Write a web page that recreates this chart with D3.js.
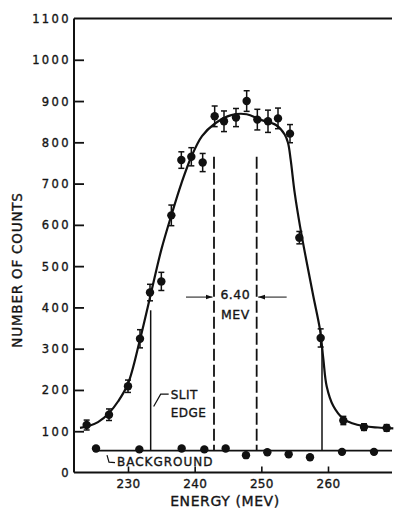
<!DOCTYPE html>
<html><head><meta charset="utf-8">
<script src="https://cdn.jsdelivr.net/npm/d3@7/dist/d3.min.js"></script>
<style>
body{margin:0;background:#fff}
svg{display:block}
text{font-family:"DejaVu Sans",sans-serif;fill:#151515;stroke:#151515;stroke-width:0.35px}
</style>
</head><body>
<svg id="c" width="394" height="512"></svg>
<script>
// Measured points (MeV, counts, +/- error)
const energy = [223.8,227.15,230,231.8,233.3,235,236.5,238,239.5,241.2,243,244.4,246.2,247.8,249.4,251,252.5,254.3,255.7,258.9,262.3,265.4,268.8];
const counts = [115,140,209,324,436,463,623,757,765,751,863,851,860,900,855,851,858,821,569,326,126,110,108];
const errors = [12,14,15,22,20,22,25,20,22,22,25,25,22,25,25,27,25,22,15,22,10,8,8];
// Background points
const bgEnergy = [225.2,231.7,238.05,241.45,244.65,247.7,250.9,254.1,257.3,262.1,266.9];
const bgCounts = [58,56,58,56,58,42,49,44,37,50,50];
const bgLevel = 53;
const bgRange = [225.2,269.6];
// Fitted curve
const fitEnergy = [222.8,224,225.5,227.2,228.5,230,231.8,233.3,235,236.5,238,239.5,241.1,243,245.5,247.8,249.8,252.2,253.5,254,254.4,255,255.8,256.8,257.8,258.8,259.3,259.8,260.8,262.3,263.5,265.5,267.5,269.8];
const fitCounts = [108,112,122,145,172,215,322,424,540,623,700,765,815,845,866,868,855,842,819,799,758,678,597,510,427,346,275,209,161,130,120,112,109,107];
// Annotation lines
const slitEnergy = [233.4,259.1];
const slitTop = [393,305];
const halfEnergy = [242.9,249.3];
const halfTop = 765;
const widthLabel = ["6.40","MEV"];
// Ticks
const yTicks = [0,100,200,300,400,500,600,700,800,900,1000,1100];
const xTicks = [230,240,250,260];

const svg = d3.select("#c");
const x = d3.scaleLinear().domain([221.9,269.6]).range([74,392]);
const y = d3.scaleLinear().domain([0,1100]).range([472.5,18.5]);

// frame: left axis, bottom axis, top line
const g = svg.append("g");
g.append("line").attr("x1",x(221.9)).attr("x2",x(221.9)).attr("y1",y(1100)).attr("y2",y(0)).attr("stroke","#111").attr("stroke-width",2);
g.append("line").attr("x1",x(221.9)).attr("x2",x(269.6)).attr("y1",y(0)).attr("y2",y(0)).attr("stroke","#111").attr("stroke-width",2);
g.append("line").attr("x1",x(221.9)).attr("x2",x(269.6)).attr("y1",y(1100)).attr("y2",y(1100)).attr("stroke","#111").attr("stroke-width",1.8);

// y ticks (inward)
const yAxis = d3.axisLeft(y).tickValues(yTicks).tickSize(0).tickPadding(0).tickFormat(d3.format("d"));
const ya = svg.append("g").attr("transform",`translate(${x(221.9)},0)`).call(yAxis);
ya.select(".domain").remove();
ya.selectAll(".tick").append("line").attr("x1",0).attr("x2",d=> (d===0||d===1100)?0:10).attr("stroke","#111").attr("stroke-width",1.8);
ya.selectAll(".tick text").attr("x",-3).attr("dy","0.35em").style("font-size","11.5px").style("letter-spacing","2.4px").attr("fill","#151515");

// x ticks
const xAxis = d3.axisBottom(x).tickValues(xTicks).tickSize(0).tickPadding(0).tickFormat(d3.format("d"));
const xa = svg.append("g").attr("transform",`translate(0,${y(0)})`).call(xAxis);
xa.select(".domain").remove();
xa.selectAll(".tick").append("line").attr("y1",0).attr("y2",-6).attr("stroke","#111").attr("stroke-width",1.6);
xa.selectAll(".tick text").attr("y",15).attr("dy","0").style("font-size","12px").style("letter-spacing","0.3px").attr("fill","#151515");

// axis titles
svg.append("text").attr("x",225).attr("y",506).attr("text-anchor","middle").style("font-size","14px").style("letter-spacing","0.6px").text("ENERGY (MEV)");
svg.append("text").attr("transform","translate(22,270) rotate(-90)").attr("text-anchor","middle").style("font-size","13.5px").style("letter-spacing","0.8px").text("NUMBER  OF  COUNTS");

// background line and points
svg.append("line").attr("x1",x(bgRange[0])).attr("x2",x(bgRange[1])).attr("y1",y(bgLevel)).attr("y2",y(bgLevel)).attr("stroke","#111").attr("stroke-width",1.6);
svg.selectAll("circle.bg").data(bgEnergy).join("circle").attr("class","bg")
  .attr("cx",d=>x(d)).attr("cy",(d,i)=>y(bgCounts[i])).attr("r",4.2).attr("fill","#111");

// slit edge lines
svg.selectAll("line.slit").data(slitEnergy).join("line").attr("class","slit")
  .attr("x1",d=>x(d)).attr("x2",d=>x(d)).attr("y1",(d,i)=>y(slitTop[i])).attr("y2",y(bgLevel))
  .attr("stroke","#111").attr("stroke-width",1.5);

// half width dashed lines
svg.selectAll("line.half").data(halfEnergy).join("line").attr("class","half")
  .attr("x1",d=>x(d)).attr("x2",d=>x(d)).attr("y1",y(halfTop)).attr("y2",y(bgLevel))
  .attr("stroke","#111").attr("stroke-width",1.8).attr("stroke-dasharray","12,4");

// fitted curve
const line = d3.line().x(d=>x(d[0])).y(d=>y(d[1])).curve(d3.curveCatmullRom.alpha(0.5));
svg.append("path").datum(fitEnergy.map((e,i)=>[e,fitCounts[i]])).attr("d",line)
  .attr("fill","none").attr("stroke","#111").attr("stroke-width",2.2);

// error bars
const eb = svg.selectAll("g.eb").data(energy).join("g").attr("class","eb");
eb.append("line").attr("x1",d=>x(d)).attr("x2",d=>x(d)).attr("y1",(d,i)=>y(counts[i]+errors[i])).attr("y2",(d,i)=>y(counts[i]-errors[i])).attr("stroke","#111").attr("stroke-width",1.5);
eb.append("line").attr("x1",d=>x(d)-3).attr("x2",d=>x(d)+3).attr("y1",(d,i)=>y(counts[i]+errors[i])).attr("y2",(d,i)=>y(counts[i]+errors[i])).attr("stroke","#111").attr("stroke-width",1.5);
eb.append("line").attr("x1",d=>x(d)-3).attr("x2",d=>x(d)+3).attr("y1",(d,i)=>y(counts[i]-errors[i])).attr("y2",(d,i)=>y(counts[i]-errors[i])).attr("stroke","#111").attr("stroke-width",1.5);
eb.append("circle").attr("cx",d=>x(d)).attr("cy",(d,i)=>y(counts[i])).attr("r",4.2).attr("fill","#111");

// width annotation
const mid = (x(halfEnergy[0])+x(halfEnergy[1]))/2;
svg.append("text").attr("x",mid).attr("y",y(420)).attr("text-anchor","middle").style("font-size","12.5px").style("letter-spacing","0.5px").text(widthLabel[0]);
svg.append("text").attr("x",mid).attr("y",y(372)).attr("text-anchor","middle").style("font-size","12.5px").style("letter-spacing","0.5px").text(widthLabel[1]);
const defs = svg.append("defs");
defs.append("marker").attr("id","ah").attr("viewBox","0 0 10 10").attr("refX",10).attr("refY",5)
  .attr("markerWidth",7).attr("markerHeight",7).attr("orient","auto")
  .append("path").attr("d","M0,1.5 L10,5 L0,8.5 Z").attr("fill","#111");
const ay = y(425);
svg.append("line").attr("x1",x(halfEnergy[0])-28).attr("x2",x(halfEnergy[0])-1.5).attr("y1",ay).attr("y2",ay)
  .attr("stroke","#111").attr("stroke-width",1).attr("marker-end","url(#ah)");
svg.append("line").attr("x1",x(halfEnergy[1])+30).attr("x2",x(halfEnergy[1])+1.5).attr("y1",ay).attr("y2",ay)
  .attr("stroke","#111").attr("stroke-width",1).attr("marker-end","url(#ah)");

// SLIT EDGE label
const sx = x(slitEnergy[0]);
svg.append("text").attr("x",sx+20).attr("y",y(177)).style("font-size","12px").style("letter-spacing","0.5px").text("SLIT");
svg.append("text").attr("x",sx+20).attr("y",y(134)).style("font-size","12px").style("letter-spacing","0.5px").text("EDGE");
svg.append("path").attr("d",`M${sx+18},${y(190)} L${sx+10},${y(190)} L${sx+3},${y(160)}`)
  .attr("fill","none").attr("stroke","#111").attr("stroke-width",1.2);

// BACKGROUND label
const bx = x(bgEnergy[0]);
svg.append("text").attr("x",bx+21).attr("y",y(15)).style("font-size","12px").style("letter-spacing","1px").text("BACKGROUND");
svg.append("path").attr("d",`M${bx+11},${y(42)} L${bx+13},${y(25)} L${bx+19},${y(24)}`)
  .attr("fill","none").attr("stroke","#111").attr("stroke-width",1.2);
</script>
</body></html>
